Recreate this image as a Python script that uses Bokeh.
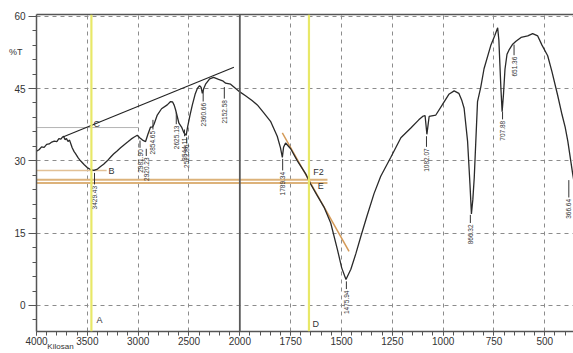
import numpy as np
from bokeh.plotting import figure
from bokeh.models import FixedTicker, LinearAxis, Span, Range1d
from bokeh.core.properties import value
from bokeh.embed import file_html
from bokeh.resources import INLINE

# ---------------- data ----------------
WAVENUMBER = [4000, 3975, 3950, 3925, 3900, 3875, 3850, 3825, 3800, 3780, 3760, 3745, 3734, 3720,
              3705, 3690, 3675, 3660, 3649, 3630, 3616, 3590, 3567, 3530, 3501, 3469, 3436, 3400,
              3370, 3340, 3304, 3270, 3242, 3210, 3173, 3140, 3104, 3070, 3042, 3009, 2985, 2957,
              2927, 2904, 2878, 2858, 2844, 2812, 2770, 2714, 2681, 2661, 2645, 2632, 2599, 2573,
              2550, 2528, 2514, 2490, 2467, 2440, 2418, 2396, 2380, 2369, 2355, 2337, 2297, 2258,
              2209, 2169, 2140, 2091, 2041, 2000, 1972, 1940, 1914, 1883, 1849, 1816, 1800, 1791,
              1785, 1775, 1750, 1717, 1676, 1652, 1622, 1586, 1553, 1520, 1499, 1478, 1454, 1429,
              1405, 1375, 1340, 1307, 1258, 1208, 1159, 1120, 1101, 1089, 1080, 1069, 1036, 1003,
              972, 946, 923, 908, 897, 880, 868, 861, 854, 847, 831, 815, 799, 766, 746, 732, 726,
              716, 710, 703, 696, 686, 676, 658, 642, 617, 584, 560, 535, 514, 486, 465, 437, 415,
              400, 387, 363, 350]
TRANSMITTANCE = [32.0, 32.3, 32.9, 32.8, 33.4, 33.5, 33.9, 34.1, 34.0, 34.6, 34.5, 34.9, 35.1, 34.4,
                 34.6, 34.0, 34.3, 33.4, 32.7, 31.9, 31.5, 30.6, 30.0, 29.2, 28.6, 28.2, 28.0, 28.3,
                 28.8, 29.3, 30.0, 30.8, 31.4, 32.0, 32.7, 33.3, 33.9, 34.5, 34.9, 35.3, 34.8, 34.3,
                 34.0, 35.5, 37.0, 37.0, 37.6, 39.5, 40.8, 41.6, 42.3, 42.2, 41.5, 40.6, 37.8, 37.0,
                 35.8, 35.3, 37.0, 39.5, 41.6, 43.8, 45.0, 45.6, 45.2, 44.0, 45.0, 45.9, 47.0, 47.3,
                 46.9, 46.6, 46.1, 45.9, 45.0, 44.3, 43.5, 42.5, 41.6, 40.0, 38.2, 35.1, 32.7, 30.7,
                 32.8, 33.7, 32.5, 30.0, 27.3, 25.2, 23.0, 20.4, 17.1, 11.6, 7.8, 5.4, 7.5, 10.8,
                 14.3, 18.5, 23.2, 26.8, 30.7, 34.8, 36.8, 38.5, 39.2, 39.4, 35.5, 39.2, 39.5, 41.7,
                 43.8, 44.5, 44.0, 42.5, 40.9, 34.1, 25.0, 19.0, 22.0, 26.6, 42.3, 45.3, 49.1, 53.9,
                 56.0, 57.6, 55.0, 45.0, 40.2, 44.0, 49.0, 52.1, 53.0, 54.2, 54.8, 55.6, 55.9, 56.4,
                 55.9, 54.0, 51.8, 48.5, 43.6, 39.5,
                 37.0, 34.1, 27.3, 24.0]

# peak annotations: marker position (wavenumber), label text, T at text top, T at marker top
PEAK_W = [3429.43, 2981.90, 2920.23, 2854.65, 2625.13, 2544.11, 2522.86, 2360.66, 2152.58,
          1789.34, 1475.94, 1082.07, 866.32, 707.88, 651.36, 382.0]
PEAK_TEXT = ["3429.43", "2981.90", "2920.23", "2854.65", "2625.13", "2544.11", "2522.86",
             "2360.66", "2152.58", "1789.34", "1475.94", "1082.07", "866.32", "707.88", "651.36",
             "366.64"]
PEAK_TEXT_TOP = [25.1, 32.7, 31.0, 36.5, 37.6, 35.1, 33.7, 42.3, 42.9, 28.0, 3.4, 32.9, 17.1, 38.6,
                 51.9, 22.4]
PEAK_MARK_TOP = [27.5, 34.2, 32.5, 38.5, 40.0, 36.5, 34.9, 44.7, 45.3, 30.4, 5.0, 35.1, 18.8, 40.2,
                 54.1, 26.0]

X_TICKS_W = [4000, 3500, 3000, 2500, 2000, 1750, 1500, 1250, 1000, 750, 500]
Y_TICKS = [0, 15, 30, 45, 60]
Y_TITLE, Y_TITLE_AT = "%T", 52.5          # caption beside the y axis
X_TITLE, X_TITLE_AT_W = "Kilosan", 3764   # caption under the x axis (cut in the source)

# construction lines
CURSOR_A_W = 3460          # yellow cursor A
CURSOR_D_W = 1660          # yellow cursor D
TANGENT_C_W = [3734, 2058]
TANGENT_C_T = [35.0, 49.4]
LINE_C_W = [4000, 3000]
LINE_C_T = 36.9
LINE_B_W = [4000, 3310]
LINE_B_T = 28.0
LINES_E_W = [4000, 1569]
LINES_E_T = [26.1, 25.4]
TANGENT_E_W = [1791, 1463]
TANGENT_E_T = [35.8, 11.2]

LETTERS = ["A", "B", "C", "D", "E", "F2"]
LETTER_W = [3409, 3291, 3439, 1643, 1617, 1639]
LETTER_T = [-3.1, 27.9, 37.6, -3.9, 24.8, 27.75]


def xu(w):
    """wavenumber -> position on the split (2x expanded below 2000) axis"""
    w = np.asarray(w, dtype=float)
    return np.where(w >= 2000, (4000.0 - w) / 2.0, 1000.0 + (2000.0 - w))


FONT = "Liberation Sans"
GRID = "#8c8c8c"

p = figure(width=573, height=353, output_backend="svg", toolbar_location=None,
           x_range=Range1d(0, 2641), y_range=Range1d(-5.4, 60.35),
           min_border_left=36, min_border_right=0, min_border_top=14, min_border_bottom=20,
           background_fill_color="white", border_fill_color="white")
p.outline_line_color = None

# axes
xt = [float(v) for v in xu(X_TICKS_W)]
p.xaxis.ticker = FixedTicker(ticks=xt, minor_ticks=list(np.arange(0, 2641, 50.0)))
p.xaxis.major_label_overrides = {t: str(w) for t, w in zip(xt, X_TICKS_W)}
p.yaxis.ticker = FixedTicker(ticks=Y_TICKS, minor_ticks=list(np.arange(-3, 61, 3.0)))
for ax in (p.xaxis[0], p.yaxis[0]):
    ax.axis_line_color = "#555555"
    ax.axis_line_width = 1.5
    ax.major_tick_line_color = "#555555"
    ax.minor_tick_line_color = "#555555"
    ax.major_label_text_font = FONT
    ax.major_label_text_font_size = "10px"
    ax.major_label_text_color = "#333333"
    ax.major_tick_in = 0
    ax.minor_tick_in = 0
p.xaxis.major_tick_out = 4
p.xaxis.minor_tick_out = 4
p.xaxis.major_label_standoff = 1
p.yaxis.major_tick_out = 8
p.yaxis.minor_tick_out = 4
p.yaxis.major_label_standoff = 3

top = LinearAxis(ticker=FixedTicker(ticks=[]), axis_line_color="#555555", axis_line_width=1.5,
                 major_tick_out=0, minor_tick_out=0, major_label_standoff=0,
                 major_label_text_font_size="0px")
p.add_layout(top, "above")

# caption axes: a single labelled position, no line, no ticks
ycap = LinearAxis(ticker=FixedTicker(ticks=[Y_TITLE_AT]), major_label_overrides={Y_TITLE_AT: Y_TITLE},
                  axis_line_color=None, major_tick_line_color=None, minor_tick_line_color=None,
                  major_tick_out=0, minor_tick_out=0, major_label_standoff=-11,
                  major_label_text_font=FONT, major_label_text_font_size="9px",
                  major_label_text_color="#333333")
p.add_layout(ycap, "left")
xcap_at = float(xu(X_TITLE_AT_W))
xcap = LinearAxis(ticker=FixedTicker(ticks=[xcap_at]), major_label_overrides={xcap_at: X_TITLE},
                  axis_line_color=None, major_tick_line_color=None, minor_tick_line_color=None,
                  major_tick_out=0, minor_tick_out=0, major_label_standoff=-6,
                  major_label_text_font=FONT, major_label_text_font_size="8px",
                  major_label_text_color="#333333")
p.add_layout(xcap, "below")

# grid
p.xgrid.ticker = FixedTicker(ticks=[t for t in xt if t not in (0.0, 1000.0)])
p.ygrid.ticker = FixedTicker(ticks=Y_TICKS)
for g in (p.xgrid[0], p.ygrid[0]):
    g.grid_line_color = GRID
    g.grid_line_dash = "4 4"
    g.grid_line_width = 1
p.add_layout(Span(location=float(xu(2000)), dimension="height", line_color="#5a5a5a", line_width=1.8))

# construction lines
p.line(xu(LINE_C_W), [LINE_C_T, LINE_C_T], line_color="#b4b4b4", line_width=1)
p.line(xu(LINE_B_W), [LINE_B_T, LINE_B_T], line_color="#e2c196", line_width=1.6)
for t in LINES_E_T:
    p.line(xu(LINES_E_W), [t, t], line_color="#dcb27a", line_width=2)
p.line(xu(TANGENT_E_W), TANGENT_E_T, line_color="#d49a58", line_width=1.5)
p.add_layout(Span(location=float(xu(CURSOR_A_W)), dimension="height", line_color="#e8e868", line_width=2.2))
p.add_layout(Span(location=float(xu(CURSOR_D_W)), dimension="height", line_color="#e8e868", line_width=2.2))

# spectrum
p.line(xu(WAVENUMBER), TRANSMITTANCE, line_color="#2a2a2a", line_width=1.3)
p.line(xu(TANGENT_C_W), TANGENT_C_T, line_color="#222222", line_width=1.1)

# peak markers
px_ = xu(PEAK_W)
p.segment(x0=px_, y0=PEAK_TEXT_TOP, x1=px_, y1=PEAK_MARK_TOP, line_color="#333333", line_width=1)
p.text(x=px_, y=np.array(PEAK_TEXT_TOP) - 0.3, text=PEAK_TEXT, angle=np.pi / 2,
       text_align="right", text_baseline="middle", text_font=value(FONT),
       text_font_size="6.5px", text_color="#333333")

# letters
p.text(x=xu(LETTER_W), y=LETTER_T, text=LETTERS, text_align="left", text_baseline="middle",
       text_font=value(FONT), text_font_size="9px", text_color="#333333")

open("out.html", "w").write(file_html(p, INLINE))
